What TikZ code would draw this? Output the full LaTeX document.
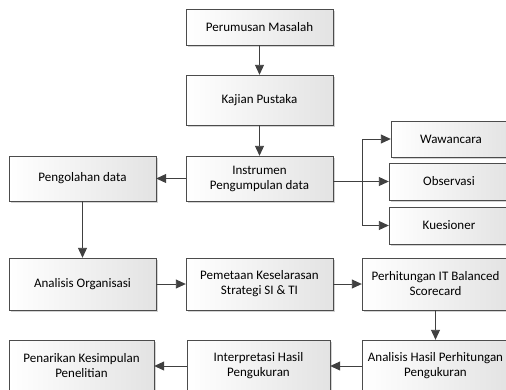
\documentclass[tikz,border=0pt]{standalone}
\usepackage{fontspec}
\setmainfont{Carlito}
\usetikzlibrary{arrows.meta, shadows}

\begin{document}
\begin{tikzpicture}[x = 1pt, y = -1pt,
    procbox/.style = {draw=gray!60!black, left color=white, right color=gray!22,
        drop shadow={shadow xshift=1.5pt, shadow yshift=-1.5pt, opacity=0.35},
        align=center, font=\fontsize{13}{15}\selectfont, inner sep=1pt},
    flowline/.style = {draw=black!75, line width=0.9pt, -{Triangle[length=10pt, width=9pt]}}]

            \useasboundingbox (0,0) rectangle (506,389);
            \clip (0,0) rectangle (506,389);

            % main column
            \node[procbox, minimum width=147, minimum height=36] (perumusan) at (259.5,27) {Perumusan Masalah};
            \node[procbox, minimum width=147, minimum height=50] (kajian) at (259.5,100) {Kajian Pustaka};
            \node[procbox, minimum width=147, minimum height=45] (instrumen) at (259.5,178.5) {Instrumen\\Pengumpulan data};
            \node[procbox, minimum width=147, minimum height=45] (pengolahan) at (82.5,178.5) {Pengolahan data};

            % instruments
            \node[procbox, minimum width=120, minimum height=36] (wawancara) at (451,139) {Wawancara};
            \node[procbox, minimum width=120, minimum height=37] (observasi) at (449,181.5) {Observasi};
            \node[procbox, minimum width=120, minimum height=37] (kuesioner) at (449,225.5) {Kuesioner};

            % analysis row
            \node[procbox, minimum width=147, minimum height=52] (organisasi) at (82.5,284) {Analisis Organisasi};
            \node[procbox, minimum width=147, minimum height=52] (pemetaan) at (259.5,284) {Pemetaan Keselarasan\\Strategi SI \& TI};
            \node[procbox, minimum width=147, minimum height=52] (perhitungan) at (435.5,284) {Perhitungan IT Balanced\\Scorecard};

            % last row
            \node[procbox, minimum width=147, minimum height=52] (hasil) at (435.5,366) {Analisis Hasil Perhitungan\\Pengukuran};
            \node[procbox, minimum width=143, minimum height=52] (interpretasi) at (258.5,366) {Interpretasi Hasil\\Pengukuran};
            \node[procbox, minimum width=145, minimum height=52] (penarikan) at (81.5,366) {Penarikan Kesimpulan\\Penelitian};

            \draw[flowline] (perumusan) -- (kajian);
            \draw[flowline] (kajian) -- (instrumen);
            \draw[flowline] (instrumen) -- (pengolahan);
            \draw[flowline] (instrumen.east |- observasi) -- (observasi);

            \coordinate (split) at (362.7,181.5);
            \draw[flowline] (split) |- (wawancara);
            \draw[flowline] (split) |- (kuesioner);

            \draw[flowline] (pengolahan) -- (organisasi);
            \draw[flowline] (organisasi) -- (pemetaan);
            \draw[flowline] (pemetaan) -- (perhitungan);
            \draw[flowline] (perhitungan) -- (hasil);
            \draw[flowline] (hasil) -- (interpretasi);
            \draw[flowline] (interpretasi) -- (penarikan);
        \end{tikzpicture}
\end{document}
